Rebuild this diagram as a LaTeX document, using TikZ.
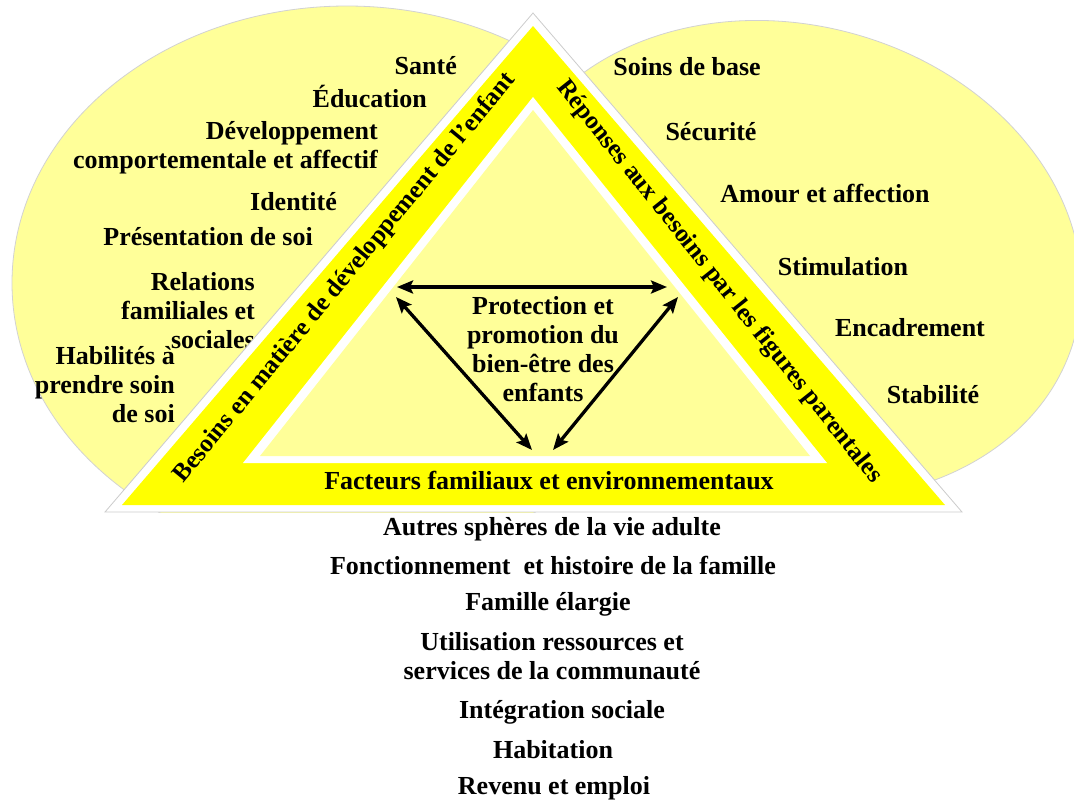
\documentclass[tikz,border=0pt]{standalone}
\usepackage{fontspec}
\setmainfont{Liberation Serif}
\usepackage{tikz}
\usetikzlibrary{arrows.meta}
\definecolor{bandyellow}{HTML}{FFFF00}
\definecolor{paleyellow}{HTML}{FFFF99}

\begin{document}
\begin{tikzpicture}[x=1pt,y=-1pt,
	lbl/.style={font=\bfseries\fontsize{26}{29}\selectfont, inner sep=0pt},
	bandlbl/.style={font=\bfseries\fontsize{25.2}{29}\selectfont, inner sep=0pt},
	dbl/.style={{Stealth[length=16pt,width=13pt,inset=3pt]}-{Stealth[length=16pt,width=13pt,inset=3pt]}, line width=3.3pt}]
	\useasboundingbox (0,0) rectangle (1074,801);
	\begin{scope}
		\clip (0,0) rectangle (1074,512);
		\draw [fill=paleyellow, draw=gray!35, line width=0.8pt] (347,283) ellipse [x radius=335, y radius=277];
		\draw [fill=paleyellow, draw=gray!35, line width=0.8pt, rotate around={-15:(790,260)}] (790,260) ellipse [x radius=295, y radius=235];
	\end{scope}
	\node [lbl, anchor=east] (sante) at (457,66) {Santé};
	\node [lbl, anchor=east] (educ) at (427,97) {Éducation};
	\node [lbl, anchor=east, align=right] (devel) at (378,148) {Développement\\comportementale et affectif};
	\node [lbl, anchor=east] (ident) at (337,202) {Identité};
	\node [lbl, anchor=east] (present) at (313,237) {Présentation de soi};
	\node [lbl, anchor=east, align=right] (relat) at (255,311) {Relations\\familiales et\\sociales};
	\node [lbl, anchor=east, align=right] (habil) at (175,385) {Habilités à\\prendre soin\\de soi};
	\node [lbl] (soins) at (687,67) {Soins de base};
	\node [lbl] (secur) at (711,132) {Sécurité};
	\node [lbl] (amour) at (825,193) {Amour et affection};
	\node [lbl] (stimul) at (843,267) {Stimulation};
	\node [lbl] (encadr) at (910,328) {Encadrement};
	\node [lbl] (stabil) at (933,395) {Stabilité};
	\draw [fill=white, draw=gray!40, line width=0.8pt] (533,13) -- (105,512) -- (962,512) -- cycle;
	\fill [bandyellow] (533,26) -- (122,505) -- (945,505) -- cycle;
	\fill [white] (533,97) -- (243,463) -- (827,463) -- cycle;
	\fill [paleyellow] (533,110) -- (260,456) -- (810,456) -- cycle;
	\node [bandlbl, rotate=50.5] (besoins) at (345,278) {Besoins en matière de développement de l’enfant};
	\node [bandlbl, rotate=-51.5] (reponses) at (719,282) {Réponses aux besoins par les figures parentales};
	\node [lbl] (facteurs) at (549,480) {Facteurs familiaux et environnementaux};
	\node [lbl, align=center] (centre) at (543,349) {Protection et\\promotion du\\bien-être des\\enfants};
	\coordinate (hleft) at (397,287);
	\coordinate (hright) at (667,287);
	\coordinate (dleft) at (396,297);
	\coordinate (dright) at (678,297);
	\coordinate (bleft) at (532,450);
	\coordinate (bright) at (553,450);
	\draw [dbl] (hleft) -- (hright);
	\draw [dbl] (dleft) -- (bleft);
	\draw [dbl] (dright) -- (bright);
	\node [lbl] (autres) at (552,529) {Autres sphères de la vie adulte};
	\node [lbl] (fonct) at (553,565) {Fonctionnement~ et histoire de la famille};
	\node [lbl] (famille) at (548,604) {Famille élargie};
	\node [lbl, align=center] (util) at (552,656) {Utilisation ressources et\\services de la communauté};
	\node [lbl] (integr) at (562,712) {Intégration sociale};
	\node [lbl] (habit) at (553,750) {Habitation};
	\node [lbl] (revenu) at (554,788) {Revenu et emploi};
\end{tikzpicture}
\end{document}
